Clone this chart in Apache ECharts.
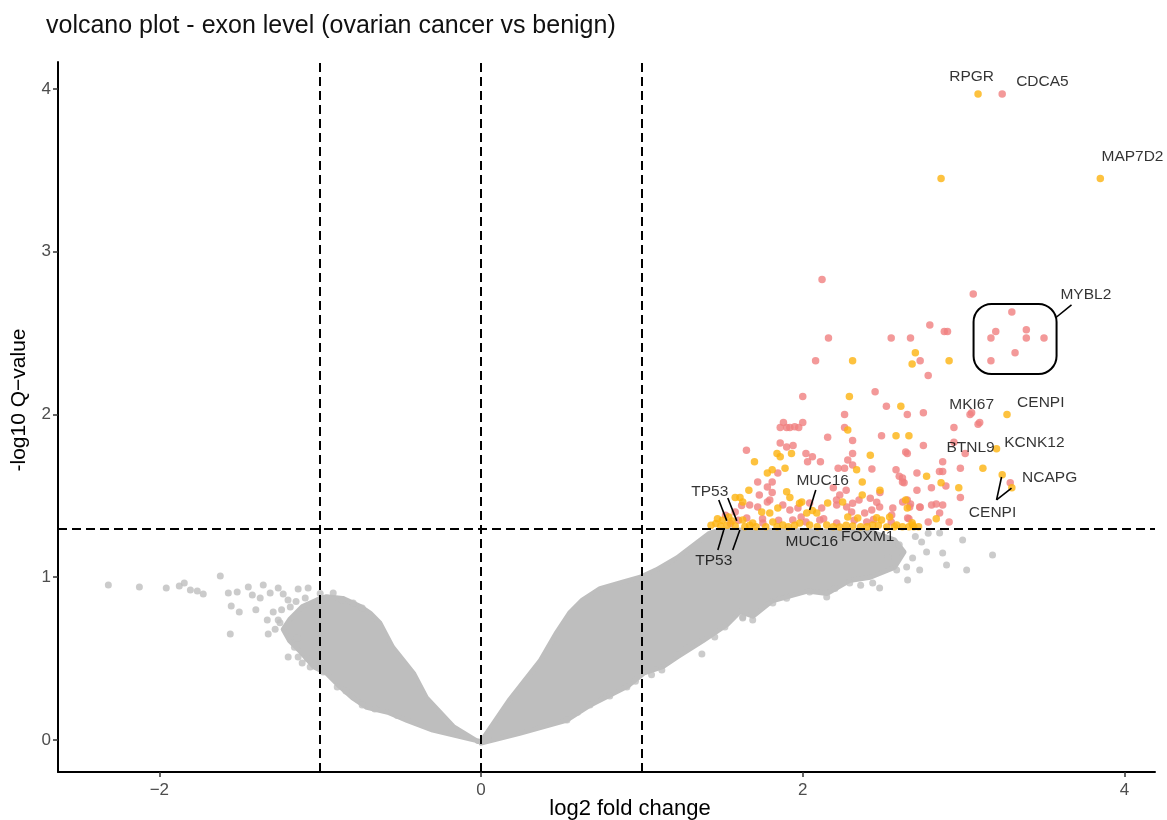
<!DOCTYPE html>
<html>
<head>
<meta charset="utf-8">
<script src="https://cdn.jsdelivr.net/npm/echarts@6/dist/echarts.min.js"></script>
<style>
html,body{margin:0;padding:0;background:#fff;}
#chart{width:1167px;height:820px;}
</style>
</head>
<body>
<div id="chart"></div>
<script>
// ---------- data ----------
const xTicks = [-2, 0, 2, 4];
const yTicks = [0, 1, 2, 3, 4];
const foldCutoffs = [-1, 0, 1];
const qCutoff = 1.301;

// outline of the dense grey clouds of non-significant exons
const leftCloud = [
  [-0.02,-0.01],[-0.17,0.08],[-0.34,0.26],[-0.42,0.41],[-0.55,0.57],[-0.63,0.72],[-0.69,0.78],
  [-0.75,0.82],[-0.86,0.87],[-0.96,0.88],[-1.02,0.86],[-1.11,0.82],[-1.19,0.74],[-1.23,0.68],
  [-1.19,0.61],[-1.12,0.54],[-1.04,0.45],[-0.96,0.41],[-0.88,0.33],[-0.80,0.26],[-0.71,0.20],
  [-0.58,0.17],[-0.46,0.12],[-0.30,0.06],[-0.13,0.02],[0,-0.01]
];
const rightCloud = [
  [0,-0.01],[0.18,0.25],[0.37,0.49],[0.47,0.66],[0.55,0.78],[0.63,0.86],[0.74,0.93],[0.88,0.97],
  [0.99,1.00],[1.09,1.045],[1.22,1.12],[1.34,1.21],[1.42,1.27],[1.48,1.29],[1.98,1.285],[2.42,1.28],
  [2.57,1.23],[2.63,1.155],[2.57,1.06],[2.42,1.0],[2.29,0.98],[2.15,0.90],[2.03,0.915],[1.81,0.855],
  [1.69,0.76],[1.61,0.79],[1.53,0.71],[1.38,0.61],[1.22,0.51],[1.13,0.45],[1.01,0.41],[0.91,0.33],
  [0.68,0.215],[0.53,0.12],[0.24,0.04],[0,-0.02]
];
// individual grey points outside the clouds
const greyPoints = [
  [-2.317,0.952],[-2.124,0.940],[-1.957,0.934],[-1.876,0.946],[-1.845,0.965],[-1.807,0.922],
  [-1.764,0.916],[-1.727,0.897],[-1.621,1.008],[-1.571,0.903],[-1.553,0.823],[-1.559,0.651],
  [-1.503,0.786],[-1.516,0.909],[-1.447,0.940],[-1.422,0.891],[-1.373,0.873],[-1.354,0.952],
  [-1.311,0.903],[-1.261,0.934],[-1.230,0.897],[-1.329,0.737],[-1.323,0.651],[-1.261,0.737],
  [-1.137,0.928],[-1.075,0.934],[-1.093,0.873],[-1.186,0.817],[-1.292,0.786],[-1.199,0.510],
  [-1.137,0.510],[-1.112,0.473],[-1.062,0.449],[-0.919,0.903],[-0.863,0.860],[-0.795,0.842],
  [-0.739,0.811],[-0.894,0.326],[-0.739,0.215],[-0.981,0.418],[-1.143,0.627],[-1.24,0.80],
  [-1.20,0.86],[-1.40,0.80],[-1.28,0.68],[-1.16,0.57],[-1.08,0.50],[-0.84,0.30],[-0.66,0.19],
  [-0.52,0.15],[-1.00,0.90],[-1.15,0.85],[-1.25,0.72],
  [0.534,0.123],[0.677,0.215],[0.783,0.289],[0.907,0.326],[1.124,0.430],[1.217,0.522],
  [1.280,0.565],[1.348,0.602],[1.373,0.528],[1.453,0.633],[1.516,0.694],[1.627,0.750],
  [2.739,1.217],[2.851,1.272],[2.994,1.229],[2.870,1.149],[2.894,1.075],[3.019,1.045],
  [3.180,1.137],[2.770,1.155],[2.683,1.118],[2.646,1.063],[2.584,1.045],[2.727,1.045],
  [2.652,0.983],[2.478,0.934],[2.435,0.965],[2.292,0.965],[2.149,0.879],[2.043,0.909],
  [1.814,0.842],[1.689,0.737],[1.627,0.756],[2.70,1.25],[2.78,1.27],[2.60,1.20],[2.53,1.12],
  [1.06,0.40],[0.96,0.36],[0.80,0.27],[0.60,0.17],[1.90,0.87],[2.20,0.93],[2.36,0.95]
];
// significant exons, larger fold change group (pink)
const redPoints = [
  [3.24,3.97],[3.06,2.74],[2.12,2.83],
  [3.30,2.63],[3.20,2.51],[3.17,2.47],[3.39,2.52],[3.39,2.47],[3.50,2.47],[3.32,2.38],[3.17,2.33],
  [2.79,2.55],[2.88,2.51],[2.90,2.51],[2.67,2.47],[2.73,2.33],[2.78,2.24],
  [2.16,2.47],[2.08,2.33],[2.55,2.47],[2.00,2.11],[2.45,2.14],[2.52,2.05],[2.65,2.00],[2.75,2.01],
  [2.26,2.00],[2.26,1.92],[2.49,1.87],[2.94,1.92],
  [1.86,1.92],[1.88,1.95],[1.90,1.92],[1.92,1.92],[1.95,1.925],[1.975,1.92],[2.00,1.95],
  [3.04,2.00],[3.05,2.01],[3.09,1.94],[3.10,1.95],[2.94,1.83],[2.75,1.81],[3.01,1.76],[2.64,1.77],
  [2.87,1.71],[2.98,1.67],[2.85,1.65],[2.87,1.65],[2.71,1.64],[3.29,1.58],[2.62,1.61],[2.63,1.58],
  [2.89,1.56],[2.80,1.55],[2.98,1.49],[2.67,1.45],[2.73,1.43],[2.83,1.45],[2.91,1.34],[2.66,1.36],
  [2.78,1.34],
  [1.86,1.825],[1.90,1.80],[1.94,1.81],[1.65,1.78],[2.02,1.76],[2.06,1.74],[2.03,1.71],[2.11,1.71],
  [2.31,1.76],[2.28,1.72],[2.31,1.69],[2.26,1.67],[2.43,1.665],[2.65,1.76],[2.58,1.66],[2.60,1.62],
  [2.62,1.585],[2.22,1.67],[1.72,1.585],[1.81,1.585],[1.845,1.64],[1.78,1.555],[1.81,1.52],
  [1.73,1.505],[1.795,1.475],[2.19,1.55],[2.23,1.505],[2.27,1.535],[2.21,1.475],[2.31,1.455],
  [2.35,1.475],[2.42,1.485],[2.48,1.52],[2.46,1.46],[2.56,1.425],[2.65,1.475],[2.71,1.535],
  [2.155,1.86],[2.31,1.84],
  [1.67,1.444],[1.72,1.432],[1.78,1.462],[1.876,1.444],[1.92,1.413],[1.97,1.425],[2.043,1.456],
  [2.118,1.425],[2.211,1.444],[2.273,1.432],[2.304,1.401],[2.385,1.395],[2.429,1.413],
  [2.478,1.432],[2.553,1.382],[2.621,1.462],[2.665,1.432],[2.652,1.364],[2.727,1.432],
  [2.801,1.444],[2.851,1.395],[2.87,1.444],
  [2.106,1.352],[2.211,1.333],[2.398,1.339],[1.938,1.352],[1.752,1.333],[1.652,1.364],
  [1.58,1.40],[1.62,1.44],[1.52,1.38],[1.55,1.33],[1.60,1.35],
  [1.75,1.36],[1.99,1.37],[2.13,1.36],[2.32,1.35],[2.55,1.34],[2.44,1.355],[2.02,1.34],[1.85,1.35]
];
// significant exons, second group (orange)
const orangePoints = [
  [3.09,3.97],[2.86,3.45],[3.85,3.45],
  [2.70,2.38],[2.68,2.31],[2.91,2.33],[2.31,2.33],[2.29,2.11],[2.61,2.05],[2.28,1.905],[2.58,1.87],
  [2.66,1.87],
  [3.27,2.00],[3.205,1.79],[3.12,1.67],[2.77,1.62],[3.24,1.63],[3.30,1.55],[2.86,1.58],[2.97,1.55],
  [2.64,1.475],[2.83,1.36],[2.66,1.31],[2.69,1.31],
  [1.84,1.76],[1.86,1.74],[1.93,1.76],[1.70,1.71],[2.42,1.75],[2.335,1.66],[2.37,1.585],[1.81,1.66],
  [1.89,1.67],[1.78,1.64],[1.665,1.535],[1.61,1.49],[1.58,1.49],[1.90,1.525],[1.92,1.49],
  [1.98,1.455],[2.06,1.41],[2.48,1.535],[2.37,1.505],[2.54,1.37],[2.46,1.365],[2.65,1.425],
  [2.68,1.335],
  [1.627,1.462],[1.745,1.401],[1.795,1.395],[1.845,1.425],[1.994,1.462],[2.025,1.395],
  [2.087,1.395],[2.155,1.456],[2.248,1.462],[2.28,1.37],[2.342,1.364],[2.49,1.352],[2.584,1.321],
  [2.683,1.321],[1.627,1.352],[1.689,1.333],[1.814,1.339],[1.876,1.321],[1.981,1.333],
  [2.043,1.321],[2.149,1.321],[2.23,1.309],[2.311,1.315],[2.435,1.321],[2.522,1.309],
  [1.43,1.32],[1.46,1.33],[1.49,1.315],[1.50,1.35],[1.53,1.32],[1.56,1.345],[1.58,1.315],
  [1.47,1.36],[1.54,1.37],[1.64,1.31],[1.67,1.32],[1.71,1.31],[1.77,1.31],[1.84,1.31],
  [1.91,1.31],[1.95,1.32],[2.09,1.31],[2.19,1.31],[2.27,1.32],[2.36,1.31],[2.40,1.31],
  [2.47,1.32],[2.57,1.31],[2.62,1.31],[2.72,1.31]
];
// gene labels: text, x, y (label centre)
const geneLabels = [
  ['RPGR',3.05,4.074],['CDCA5',3.49,4.043],['MAP7D2',4.05,3.582],['MYBL2',3.76,2.734],
  ['MKI67',3.05,2.058],['CENPI',3.48,2.071],['BTNL9',3.043,1.794],['KCNK12',3.44,1.825],
  ['NCAPG',3.535,1.610],['CENPI',3.18,1.395],['TP53',1.422,1.524],['TP53',1.447,1.10],
  ['MUC16',2.124,1.591],['MUC16',2.056,1.217],['FOXM1',2.404,1.247]
];
// leader segments: x1, y1, x2, y2
const leaderSegments = [
  [3.578,2.599,3.671,2.673],
  [3.205,1.475,3.236,1.616],[3.205,1.475,3.298,1.548],
  [2.081,1.536,2.043,1.413],
  [1.478,1.475,1.528,1.346],[1.534,1.487,1.59,1.346],
  [1.472,1.167,1.509,1.290],[1.565,1.167,1.609,1.290]
];
// rounded box around the MYBL2 group: x1, yTop, x2, yBottom
const groupBox = [[3.062,2.679,3.578,2.249]];

// ---------- chart ----------
const GREY = '#BEBEBE', RED = '#F08080', ORANGE = '#FDB30F';
const FONT = '"Liberation Sans", Arial, Helvetica, sans-serif';
const chart = echarts.init(document.getElementById('chart'), null, {renderer: 'canvas'});
const fmt = v => (v < 0 ? '\u2212' + Math.abs(v) : String(v));

chart.setOption({
  animation: false,
  backgroundColor: '#ffffff',
  grid: {left: 58, right: 12, top: 62, bottom: 48, containLabel: false},
  xAxis: {
    type: 'value', min: -2.63, max: 4.19,
    axisLine: {show: true, onZero: false, lineStyle: {color: '#000', width: 2}},
    axisTick: {show: true, customValues: xTicks, length: 5, lineStyle: {color: '#333', width: 1.5}},
    axisLabel: {show: true, customValues: xTicks, formatter: fmt, margin: 10,
      color: '#4D4D4D', fontSize: 17, fontFamily: FONT},
    splitLine: {show: false}
  },
  yAxis: {
    type: 'value', min: -0.197, max: 4.166,
    axisLine: {show: true, onZero: false, lineStyle: {color: '#000', width: 2}},
    axisTick: {show: true, customValues: yTicks, length: 5, lineStyle: {color: '#333', width: 1.5}},
    axisLabel: {show: true, customValues: yTicks, formatter: fmt, margin: 7,
      color: '#4D4D4D', fontSize: 17, fontFamily: FONT},
    splitLine: {show: false}
  },
  graphic: [
    {type: 'text', left: 46, top: 14, z: 100,
      style: {text: 'volcano plot - exon level (ovarian cancer vs benign)', fill: '#111',
        font: '25px ' + FONT}},
    {type: 'text', x: 630, y: 809, z: 100,
      style: {text: 'log2 fold change', fill: '#000', font: '22px ' + FONT,
        textAlign: 'center', textVerticalAlign: 'middle'}},
    {type: 'text', x: 19, y: 400, rotation: Math.PI / 2, z: 100,
      style: {text: '-log10 Q\u2212value', fill: '#000', font: '21px ' + FONT,
        textAlign: 'center', textVerticalAlign: 'middle'}}
  ],
  series: [
    {
      type: 'custom', silent: true, z: 1, clip: true,
      data: [[0, 0], [0, 0]],
      renderItem: (params, api) => {
        const cloud = params.dataIndex === 0 ? leftCloud : rightCloud;
        return {type: 'polygon', shape: {points: cloud.map(p => api.coord(p))},
          style: {fill: GREY, stroke: GREY, lineWidth: 5, lineJoin: 'round'}};
      }
    },
    {type: 'scatter', z: 2, silent: true, data: greyPoints, symbolSize: 7,
      itemStyle: {color: GREY}},
    {type: 'scatter', z: 3, silent: true, data: redPoints, symbolSize: 7.5,
      itemStyle: {color: RED}},
    {type: 'scatter', z: 3, silent: true, data: orangePoints, symbolSize: 7.5,
      itemStyle: {color: ORANGE}},
    {
      type: 'custom', silent: true, z: 4,
      data: leaderSegments,
      encode: {x: [0, 2], y: [1, 3]},
      renderItem: (params, api) => {
        const a = api.coord([api.value(0), api.value(1)]);
        const b = api.coord([api.value(2), api.value(3)]);
        return {type: 'line', shape: {x1: a[0], y1: a[1], x2: b[0], y2: b[1]},
          style: {stroke: '#000', lineWidth: 1.6}};
      }
    },
    {
      type: 'custom', silent: true, z: 4,
      data: groupBox,
      encode: {x: [0, 2], y: [1, 3]},
      renderItem: (params, api) => {
        const a = api.coord([api.value(0), api.value(1)]);
        const b = api.coord([api.value(2), api.value(3)]);
        return {type: 'rect', shape: {x: a[0], y: a[1], width: b[0] - a[0], height: b[1] - a[1], r: 18},
          style: {fill: 'none', stroke: '#000', lineWidth: 2}};
      }
    },
    {
      type: 'scatter', z: 5, silent: true, symbolSize: 1,
      itemStyle: {color: 'rgba(0,0,0,0)'},
      data: geneLabels.map(d => ({name: d[0], value: [d[1], d[2]]})),
      label: {show: true, position: 'inside', formatter: '{b}', color: '#000',
        fontSize: 15.5, fontFamily: FONT},
      labelLayout: {hideOverlap: false}
    },
    {
      type: 'scatter', z: 6, silent: true, data: [],
      markLine: {
        silent: true, symbol: ['none', 'none'], animation: false,
        label: {show: false},
        lineStyle: {color: '#000', width: 2, type: [9, 5]},
        data: foldCutoffs.map(v => ({xAxis: v})).concat([{yAxis: qCutoff}])
      }
    }
  ]
});
</script>
</body>
</html>
